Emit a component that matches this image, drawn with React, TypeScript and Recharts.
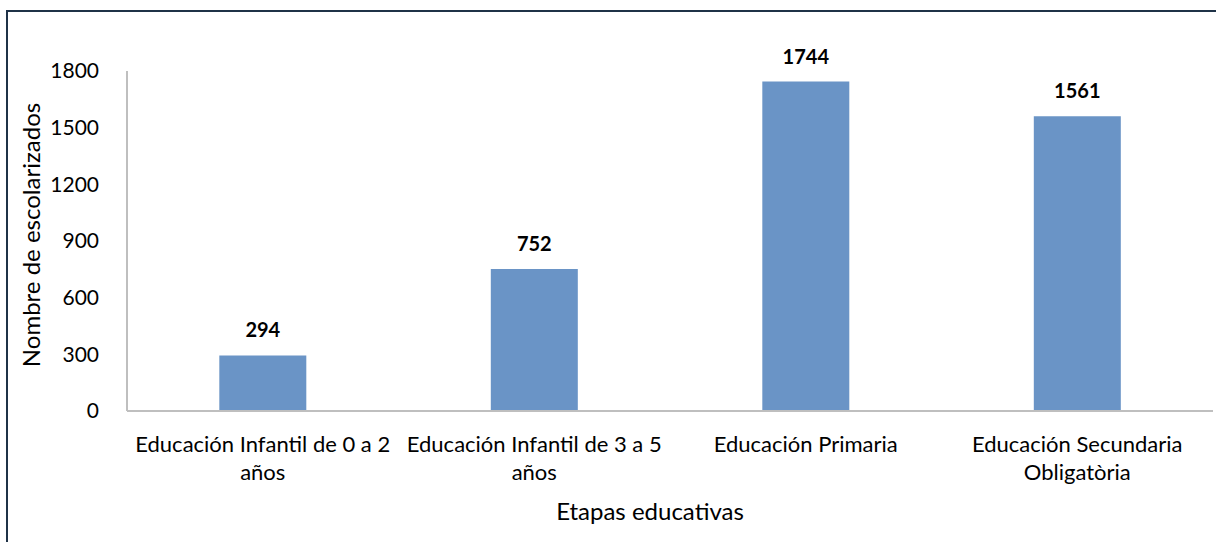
import React from 'react';
import { BarChart, Bar, XAxis, YAxis, LabelList } from 'recharts';

const categories = [
  'Educación Infantil de 0 a 2 años',
  'Educación Infantil de 3 a 5 años',
  'Educación Primaria',
  'Educación Secundaria Obligatòria',
];
const tickLines = [
  ['Educación Infantil de 0 a 2', 'años'],
  ['Educación Infantil de 3 a 5', 'años'],
  ['Educación Primaria'],
  ['Educación Secundaria', 'Obligatòria'],
];
const escolarizados = [294, 752, 1744, 1561];
const yTicks = [0, 300, 600, 900, 1200, 1500, 1800];

const data = categories.map((name, i) => ({ name, value: escolarizados[i] }));

const FONT = 'Lato, "Open Sans", sans-serif';
const BAR = '#6a94c6';
const AXIS = '#bfbfbf';

// etiquetas del eje X en dos líneas
const XTick = (props: any) => {
  const { x, y, index } = props;
  const lines = tickLines[index] || [];
  return (
    <g>
      {lines.map((l, k) => (
        <text
          key={k}
          x={x}
          y={y + 33 + k * 28}
          textAnchor="middle"
          fontSize={22}
          fontFamily={FONT}
          fill="#000"
        >
          {l}
        </text>
      ))}
    </g>
  );
};

const YLabel = (props: any) => {
  const vb = props.viewBox || {};
  const cy = vb.y + vb.height / 2 - 6;
  return (
    <text
      x={40}
      y={cy}
      transform={`rotate(-90, 40, ${cy})`}
      textAnchor="middle"
      fontSize={24}
      fontFamily={FONT}
      fill="#000"
    >
      Nombre de escolarizados
    </text>
  );
};

const XLabel = (props: any) => {
  const vb = props.viewBox || {};
  return (
    <text
      x={vb.x + vb.width / 2 - 20}
      y={vb.y + 109}
      textAnchor="middle"
      fontSize={24}
      fontFamily={FONT}
      fill="#000"
    >
      Etapas educativas
    </text>
  );
};

export default function App() {
  return (
    <div style={{ position: 'absolute', top: 0, left: 0, width: 1216, height: 542, background: '#fff', overflow: 'hidden' }}>
      <div
        style={{
          position: 'absolute',
          left: 6,
          top: 10,
          width: 1300,
          height: 600,
          borderLeft: '2px solid #1f3247',
          borderTop: '2px solid #1f3247',
        }}
      />
      <div style={{ position: 'absolute', top: 0, left: 0 }}>
        <BarChart
          width={1216}
          height={542}
          data={data}
          margin={{ top: 71, right: 3, bottom: 0, left: 0 }}
          barCategoryGap="34%"
        >
          <XAxis
            dataKey="name"
            axisLine={{ stroke: AXIS, strokeWidth: 2 }}
            tickLine={false}
            tick={<XTick />}
            interval={0}
            height={131}
            label={<XLabel />}
          />
          <YAxis
            width={127}
            domain={[0, 1800]}
            ticks={yTicks}
            axisLine={{ stroke: AXIS, strokeWidth: 2 }}
            tickLine={false}
            tickMargin={22}
            tick={{ fontSize: 21, fontFamily: FONT, fill: '#000' }}
            label={<YLabel />}
          />
          <Bar dataKey="value" fill={BAR} isAnimationActive={false}>
            <LabelList
              dataKey="value"
              position="top"
              offset={18}
              style={{ fontSize: 20, fontWeight: 700, fontFamily: FONT, fill: '#000' }}
            />
          </Bar>
        </BarChart>
      </div>
    </div>
  );
}
